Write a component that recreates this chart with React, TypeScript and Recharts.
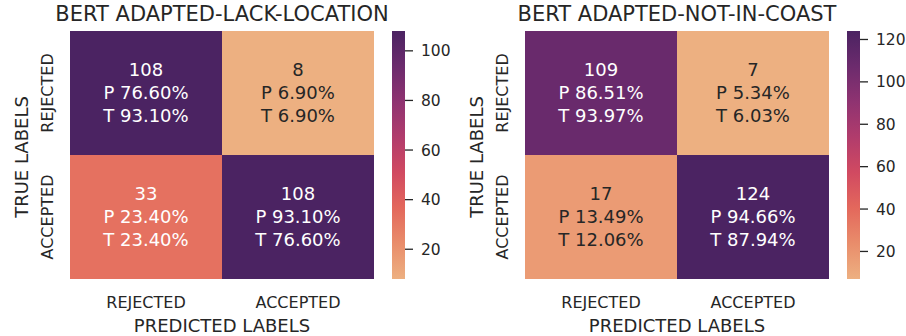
import { BarChart, Bar, XAxis, YAxis, Cell, LabelList } from "recharts";

const predictedLabels = ["REJECTED", "ACCEPTED"];
const trueLabels = ["REJECTED", "ACCEPTED"];

// rows = true label, columns = predicted label
const lackLocationCounts = [
  [108, 8],
  [33, 108],
];
const lackLocationP = [
  ["76.60", "6.90"],
  ["23.40", "93.10"],
];
const lackLocationT = [
  ["93.10", "6.90"],
  ["23.40", "76.60"],
];
const lackLocationTicks = [20, 40, 60, 80, 100];

const notInCoastCounts = [
  [109, 7],
  [17, 124],
];
const notInCoastP = [
  ["86.51", "5.34"],
  ["13.49", "94.66"],
];
const notInCoastT = [
  ["93.97", "6.03"],
  ["12.06", "87.94"],
];
const notInCoastTicks = [20, 40, 60, 80, 100, 120];

// seaborn "flare"
const flareStops = ["#edb081", "#e98d6b", "#e3685c", "#d14a61", "#b13c6c", "#8f3371", "#6c2b6d", "#4b2362"];

const FONT = "DejaVu Sans, Verdana, sans-serif";
const DARK = "#262626";

const hex = (h: string) => [1, 3, 5].map((i) => parseInt(h.slice(i, i + 2), 16));

function flare(t: number) {
  const n = flareStops.length - 1;
  const pos = Math.max(0, Math.min(1, t)) * n;
  const i = Math.min(Math.floor(pos), n - 1);
  const f = pos - i;
  const a = hex(flareStops[i]);
  const b = hex(flareStops[i + 1]);
  return a.map((v, k) => Math.round(v + (b[k] - v) * f));
}

function textColor(rgb: number[]) {
  const lin = rgb.map((v) => {
    const c = v / 255;
    return c <= 0.03928 ? c / 12.92 : Math.pow((c + 0.055) / 1.055, 2.4);
  });
  const lum = 0.2126 * lin[0] + 0.7152 * lin[1] + 0.0722 * lin[2];
  return lum > 0.408 ? DARK : "#ffffff";
}

const XTick = (props: any) => {
  const { x, y, payload } = props;
  return (
    <text x={x} y={y + 29} textAnchor="middle" fill={DARK} fontSize={16} fontFamily={FONT}>
      {payload.value}
    </text>
  );
};

const YTick = (props: any) => {
  const { x, y, payload } = props;
  const label = payload.value > 1 ? trueLabels[0] : trueLabels[1];
  const px = x - 17;
  return (
    <text
      x={px}
      y={y}
      transform={`rotate(-90 ${px} ${y})`}
      textAnchor="middle"
      fill={DARK}
      fontSize={16}
      fontFamily={FONT}
    >
      {label}
    </text>
  );
};

const YLabel = (props: any) => {
  const vb = props.viewBox;
  const px = vb.x + 28;
  const py = vb.y + vb.height / 2 + 2;
  return (
    <text
      x={px}
      y={py}
      transform={`rotate(-90 ${px} ${py})`}
      textAnchor="middle"
      fill={DARK}
      fontSize={18}
      fontFamily={FONT}
    >
      TRUE LABELS
    </text>
  );
};

interface HeatmapProps {
  title: string;
  counts: number[][];
  p: string[][];
  t: string[][];
  ticks: number[];
  left: number;
}

function Heatmap({ title, counts, p, t, ticks, left }: HeatmapProps) {
  const flat = counts.flat();
  const min = Math.min(...flat);
  const max = Math.max(...flat);
  const colorOf = (v: number) => flare((v - min) / (max - min));
  const data = predictedLabels.map((pred) => ({ pred, top: 1, bottom: 1 }));
  const cbar = [{ name: "cbar", range: [min, max] }];

  const cellText = (row: number) => (props: any) => {
    const vb = props.viewBox ?? props;
    const c = props.index;
    const cx = vb.x + vb.width / 2;
    const cy = vb.y + vb.height / 2;
    const fill = textColor(colorOf(counts[row][c]));
    const lines = [`${counts[row][c]}`, `P ${p[row][c]}%`, `T ${t[row][c]}%`];
    return (
      <text textAnchor="middle" fill={fill} fontSize={18} fontFamily={FONT}>
        {lines.map((l, k) => (
          <tspan key={k} x={cx} y={cy + 6 + (k - 1) * 23}>
            {l}
          </tspan>
        ))}
      </text>
    );
  };

  const cells = (row: number) =>
    predictedLabels.map((_, c) => {
      const rgb = colorOf(counts[row][c]);
      return <Cell key={c} fill={`rgb(${rgb.join(",")})`} />;
    });

  return (
    <div style={{ position: "absolute", left, top: 0, width: 455, height: 336 }}>
      <div
        style={{
          position: "absolute",
          left: 0,
          top: 4,
          width: 444,
          textAlign: "center",
          fontFamily: FONT,
          fontSize: 21,
          lineHeight: "21px",
          color: DARK,
          whiteSpace: "nowrap",
        }}
      >
        {title}
      </div>
      <div style={{ position: "absolute", left: 0, top: 0 }}>
        <BarChart
          width={380}
          height={336}
          data={data}
          margin={{ top: 31, right: 6, bottom: 0, left: 0 }}
          barCategoryGap={0}
          barGap={0}
        >
          <XAxis
            dataKey="pred"
            type="category"
            height={57}
            interval={0}
            tickLine={false}
            axisLine={false}
            tickSize={0}
            tickMargin={0}
            tick={<XTick />}
            label={{
              value: "PREDICTED LABELS",
              position: "insideBottom",
              offset: 4,
              fill: DARK,
              fontSize: 18,
              fontFamily: FONT,
            }}
          />
          <YAxis
            type="number"
            domain={[0, 2]}
            ticks={[0.5, 1.5]}
            width={70}
            tickLine={false}
            axisLine={false}
            tickSize={0}
            tickMargin={0}
            tick={<YTick />}
            label={<YLabel />}
          />
          <Bar dataKey="bottom" stackId="m" isAnimationActive={false}>
            {cells(1)}
            <LabelList dataKey="bottom" content={cellText(1)} />
          </Bar>
          <Bar dataKey="top" stackId="m" isAnimationActive={false}>
            {cells(0)}
            <LabelList dataKey="top" content={cellText(0)} />
          </Bar>
        </BarChart>
      </div>
      <div style={{ position: "absolute", left: 392, top: 0 }}>
        <BarChart
          width={62}
          height={336}
          data={cbar}
          margin={{ top: 31, right: 0, bottom: 57, left: 0 }}
          barCategoryGap={0}
        >
          <XAxis dataKey="name" hide />
          <YAxis
            orientation="right"
            type="number"
            domain={[min, max]}
            ticks={ticks}
            allowDataOverflow
            width={49}
            axisLine={false}
            tickSize={8}
            tickMargin={8}
            tickLine={{ stroke: DARK, strokeWidth: 1.3 }}
            tick={{ fill: DARK, fontSize: 15.5, fontFamily: FONT }}
          />
          <Bar dataKey="range" fill="url(#flareGrad)" isAnimationActive={false} />
        </BarChart>
      </div>
    </div>
  );
}

export default function App() {
  return (
    <div
      style={{
        position: "absolute",
        left: 0,
        top: 0,
        width: 906,
        height: 336,
        background: "#ffffff",
        overflow: "hidden",
      }}
    >
      <svg width={0} height={0} style={{ position: "absolute" }}>
        <defs>
          <linearGradient id="flareGrad" x1="0" y1="1" x2="0" y2="0">
            {flareStops.map((c, i) => (
              <stop key={i} offset={i / (flareStops.length - 1)} stopColor={c} />
            ))}
          </linearGradient>
        </defs>
      </svg>
      <Heatmap
        title="BERT ADAPTED-LACK-LOCATION"
        counts={lackLocationCounts}
        p={lackLocationP}
        t={lackLocationT}
        ticks={lackLocationTicks}
        left={0}
      />
      <Heatmap
        title="BERT ADAPTED-NOT-IN-COAST"
        counts={notInCoastCounts}
        p={notInCoastP}
        t={notInCoastT}
        ticks={notInCoastTicks}
        left={455}
      />
    </div>
  );
}
